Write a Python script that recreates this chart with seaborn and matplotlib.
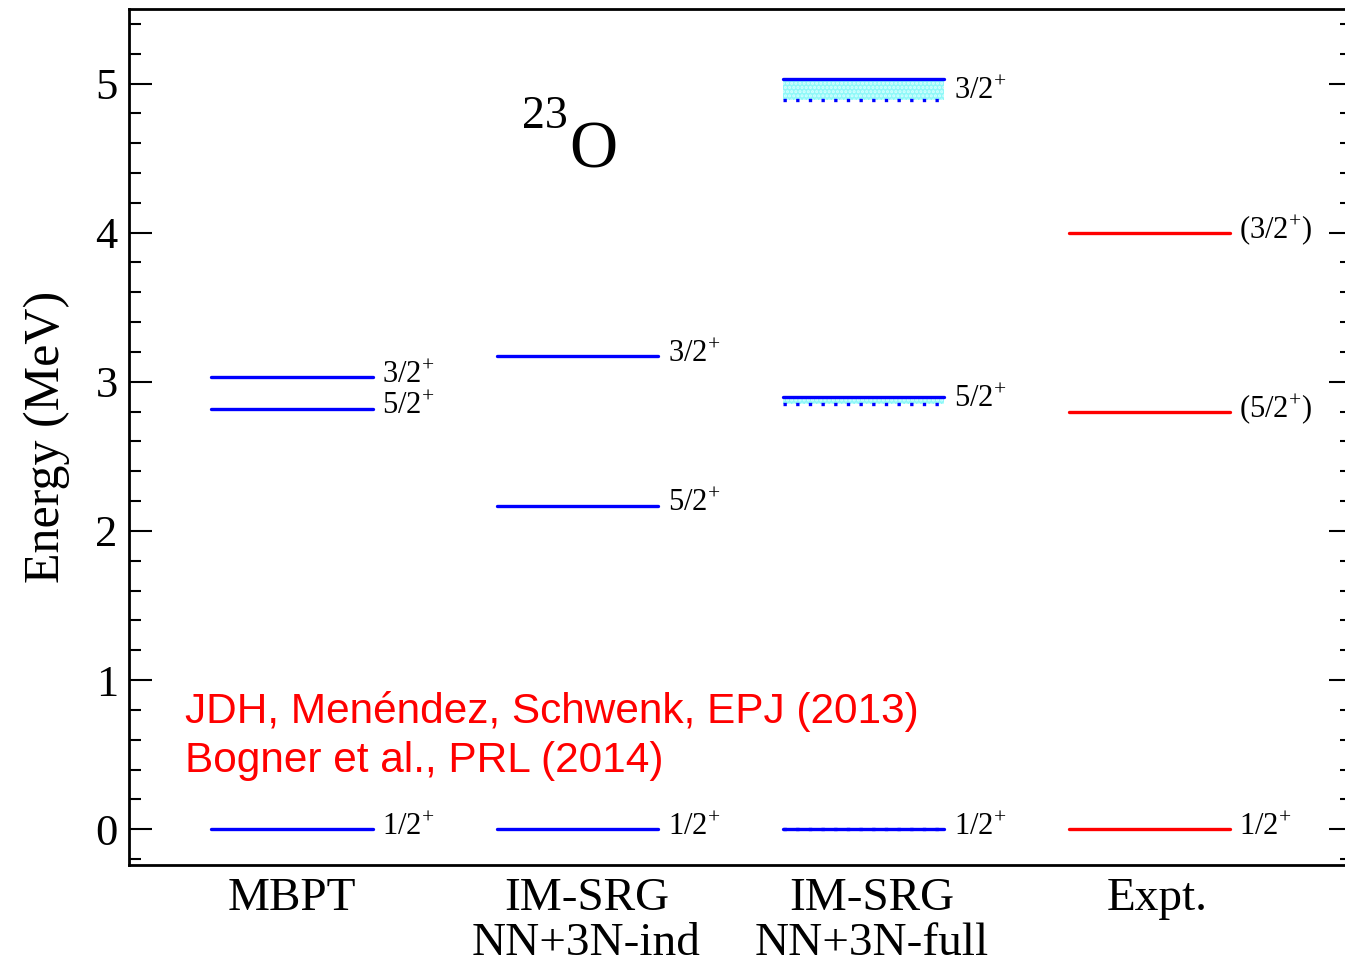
import numpy as np
import pandas as pd
import matplotlib
matplotlib.use("Agg")
import matplotlib.pyplot as plt
import seaborn as sns

# ---- level data (MeV) ----
methods = ["MBPT", "IM-SRG\nNN+3N-ind", "IM-SRG\nNN+3N-full", "Expt."]

mbpt_energy = [0.00, 2.82, 3.03]
mbpt_spin = ["1/2", "5/2", "3/2"]

ind_energy = [0.00, 2.17, 3.17]
ind_spin = ["1/2", "5/2", "3/2"]

full_energy = [0.00, 2.90, 5.03]
full_lower = [0.00, 2.85, 4.89]
full_spin = ["1/2", "5/2", "3/2"]

expt_energy = [0.00, 2.80, 4.00]
expt_spin = ["1/2", "5/2", "3/2"]
expt_tentative = [False, True, True]

yticks = [0, 1, 2, 3, 4, 5]

sns.set_theme(style="ticks")
plt.rcParams["font.family"] = ["Liberation Serif", "DejaVu Serif"]
plt.rcParams["mathtext.fontset"] = "custom"
plt.rcParams["mathtext.rm"] = "Liberation Serif"
plt.rcParams["mathtext.it"] = "Liberation Serif:italic"
plt.rcParams["hatch.linewidth"] = 1.5
for key in ("text.color", "axes.labelcolor", "xtick.color", "ytick.color",
            "axes.edgecolor"):
    plt.rcParams[key] = "black"

BLUE = "#0000ff"
RED = "#ff0000"
HALF = 0.282

fig = plt.figure(figsize=(13.45, 9.64), dpi=100)
ax = fig.add_axes([0.0959, 0.1027, 1.0052 - 0.0959, 0.9907 - 0.1027])

# long table of level segments for seaborn
rows = []
groups = [
    (0, mbpt_energy, "theory"),
    (1, ind_energy, "theory"),
    (2, full_energy, "theory"),
    (3, expt_energy, "expt"),
]
for col, energies, src in groups:
    for k, e in enumerate(energies):
        uid = f"{col}-{k}"
        rows.append(dict(x=col - HALF, E=e, level=uid, source=src))
        rows.append(dict(x=col + HALF, E=e, level=uid, source=src))
levels = pd.DataFrame(rows)

# uncertainty bands of the full IM-SRG calculation
for lo, hi in zip(full_lower, full_energy):
    if hi > lo:
        ax.fill_between([2 - HALF, 2 + HALF], lo, hi, facecolor="#8ff8f8",
                        edgecolor="#d8ffff", hatch="....", linewidth=0, zorder=1)

sns.lineplot(data=levels, x="x", y="E", units="level", estimator=None,
             hue="source", palette={"theory": BLUE, "expt": RED},
             sort=False, linewidth=2.4, legend=False, ax=ax, zorder=3)

# lower edge of the bands (dotted)
ax.hlines(full_lower, 2 - HALF, 2 + HALF, colors=BLUE, linewidth=2.4,
          linestyles=[(0, (1, 2.8))], zorder=4)

# spin-parity labels
def spin_label(text, tentative=False):
    body = text + r"^{+}"
    if tentative:
        body = "(" + body + ")"
    return r"$\mathregular{" + body + "}$"

label_sets = [
    (0, mbpt_energy, mbpt_spin, [False] * 3),
    (1, ind_energy, ind_spin, [False] * 3),
    (2, [lo + 0.3 * (hi - lo) for hi, lo in zip(full_energy, full_lower)], full_spin, [False] * 3),
    (3, expt_energy, expt_spin, expt_tentative),
]
for col, energies, spins, tent in label_sets:
    for e, s, t in zip(energies, spins, tent):
        ax.annotate(spin_label(s, t), xy=(col + HALF, e), xytext=(7, -4),
                    textcoords="offset points", ha="left", va="baseline",
                    fontsize=22, color="black", zorder=5)

# nucleus label
ax.text(0.966, 4.70, "23", fontsize=33, ha="right", va="baseline")
ax.text(1.055, 4.44, "O", fontsize=48, ha="center", va="baseline")

# references
ref_font = ["Liberation Sans", "DejaVu Sans"]
ax.text(-0.376, 0.713, "JDH, Menéndez, Schwenk, EPJ (2013)", fontsize=30.5,
        color=RED, family=ref_font, ha="left", va="baseline")
ax.text(-0.376, 0.385, "Bogner et al., PRL (2014)", fontsize=30.5,
        color=RED, family=ref_font, ha="left", va="baseline")

# axes
ax.set_xlim(-0.5705, 3.710)
ax.set_ylim(-0.24, 5.50)
# category names sit slightly right of the level columns (ticks are hidden)
ax.set_xticks(np.arange(len(methods)) + np.array([0.0, 0.031, 0.028, 0.028]))
ax.set_xticklabels(methods, fontsize=34, linespacing=1.08)
ax.set_yticks(yticks)
ax.set_yticklabels([str(v) for v in yticks], fontsize=32)
ax.set_yticks(np.arange(-0.2, 5.5, 0.2), minor=True)
ax.tick_params(axis="y", which="major", direction="in", length=16.5, width=1.5,
               right=True, left=True, pad=8, colors="black")
ax.tick_params(axis="y", which="minor", direction="in", length=8.6, width=1.5,
               right=True, left=True)
ax.tick_params(axis="x", which="both", length=0, pad=9, colors="black")
ax.set_xlabel("")
ax.set_ylabel("Energy (MeV)", fontsize=36, labelpad=18, color="black")
for sp in ax.spines.values():
    sp.set_linewidth(2.0)
    sp.set_color("black")

fig.savefig("out.png", dpi=100)
